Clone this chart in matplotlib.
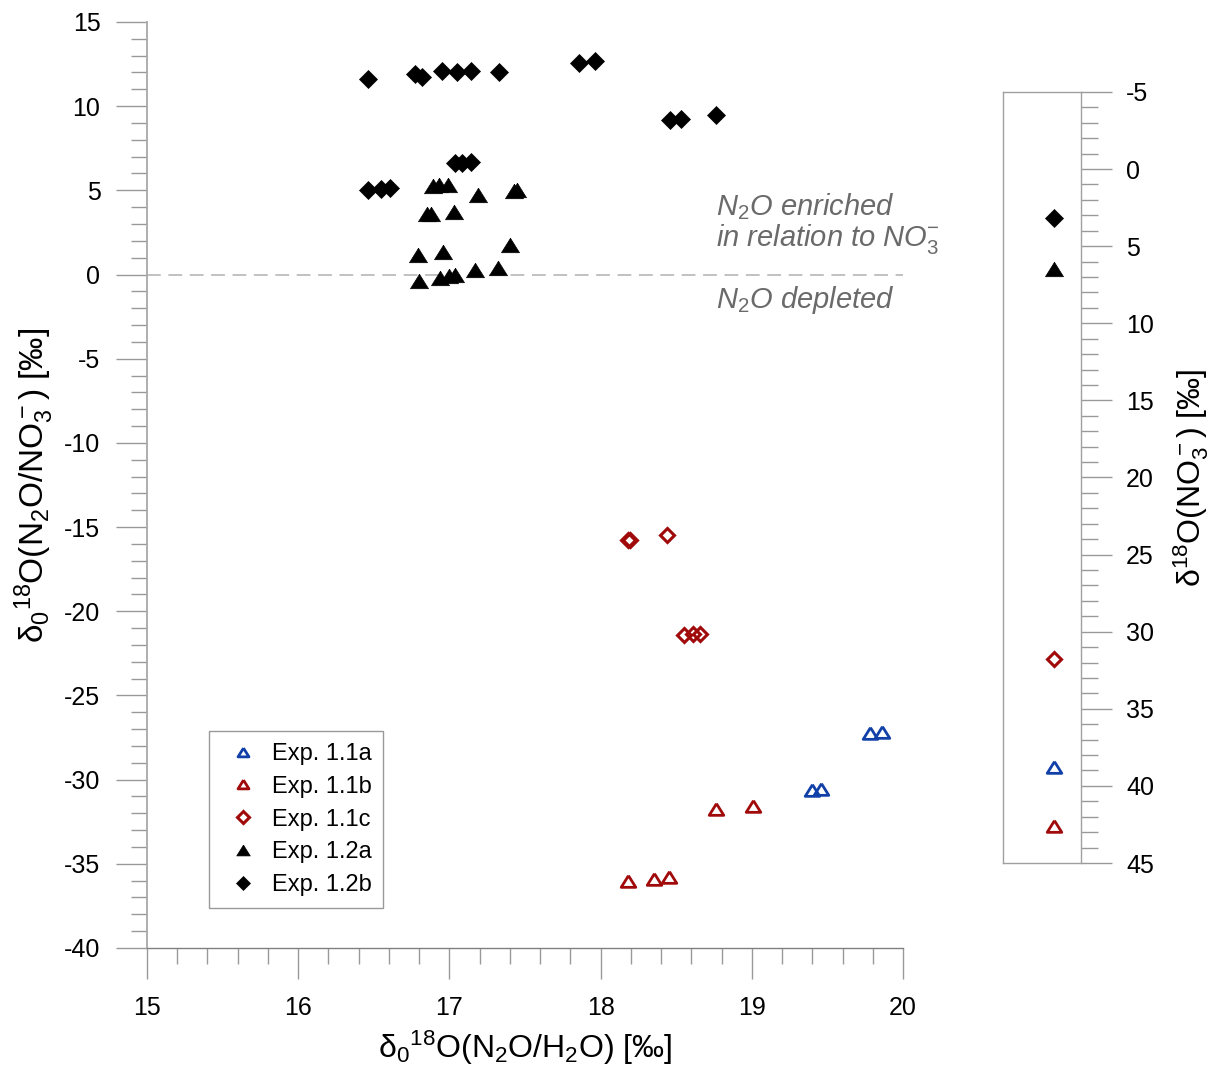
import matplotlib
matplotlib.use("Agg")
import matplotlib.pyplot as plt
from matplotlib.ticker import MultipleLocator

# ---------------- data ----------------
# Exp. 1.1a (blue open triangles)
x_11a = [19.78, 19.86, 19.40, 19.46]
y_11a = [-27.24, -27.18, -30.60, -30.55]
# Exp. 1.1b (red open triangles)
x_11b = [18.76, 19.01, 18.18, 18.35, 18.45]
y_11b = [-31.75, -31.54, -36.05, -35.91, -35.81]
# Exp. 1.1c (red open diamonds)
x_11c = [18.18, 18.195, 18.44, 18.55, 18.61, 18.66]
y_11c = [-15.76, -15.74, -15.50, -21.44, -21.36, -21.34]
# Exp. 1.2a (black filled triangles)
x_12a = [16.89, 16.93, 16.99, 17.19, 17.43, 17.45, 16.85, 16.88, 17.03,
         16.79, 16.96, 17.40, 16.80, 16.94, 17.00, 17.04, 17.17, 17.32]
y_12a = [5.26, 5.30, 5.34, 4.73, 4.96, 5.02, 3.60, 3.60, 3.72,
         1.16, 1.32, 1.76, -0.36, -0.22, -0.08, -0.04, 0.27, 0.41]
# Exp. 1.2b (black filled diamonds)
x_12b = [16.46, 16.77, 16.82, 16.95, 17.05, 17.14, 17.33, 17.86, 17.96,
         18.46, 18.53, 18.76, 16.46, 16.55, 16.61, 17.04, 17.08, 17.14]
y_12b = [11.60, 11.89, 11.72, 12.09, 12.01, 12.09, 12.05, 12.58, 12.67,
         9.18, 9.24, 9.48, 5.02, 5.10, 5.14, 6.61, 6.64, 6.69]

# delta18O(NO3-) of each experiment (right panel)
no3_labels = ["Exp. 1.1a", "Exp. 1.1b", "Exp. 1.1c", "Exp. 1.2a", "Exp. 1.2b"]
no3_values = [38.8, 42.6, 31.8, 6.5, 3.2]

x_ticks = [15, 16, 17, 18, 19, 20]
y_ticks = [15, 10, 5, 0, -5, -10, -15, -20, -25, -30, -35, -40]
r_ticks = [-5, 0, 5, 10, 15, 20, 25, 30, 35, 40, 45]

# ---------------- style ----------------
plt.rcParams['font.family'] = ['Liberation Sans', 'DejaVu Sans']
plt.rcParams['mathtext.fontset'] = 'custom'
plt.rcParams['mathtext.rm'] = 'Liberation Sans'
plt.rcParams['mathtext.it'] = 'Liberation Sans:italic'
plt.rcParams['mathtext.bf'] = 'Liberation Sans:bold'
plt.rcParams['axes.unicode_minus'] = False

BLUE = '#1040a8'
RED = '#a00a0a'
BLACK = 'black'
TICKC = '#999999'
tri = [(0, 0.8), (-1, -0.8), (1, -0.8), (0, 0.8)]

styles = {
    "Exp. 1.1a": dict(marker=tri, ms=10.5, mfc='none', mec=BLUE, mew=2.0),
    "Exp. 1.1b": dict(marker=tri, ms=10.5, mfc='none', mec=RED, mew=2.0),
    "Exp. 1.1c": dict(marker='D', ms=7.5, mfc='none', mec=RED, mew=2.2),
    "Exp. 1.2a": dict(marker=tri, ms=13, mfc=BLACK, mec=BLACK, mew=0.5),
    "Exp. 1.2b": dict(marker='D', ms=9, mfc=BLACK, mec=BLACK, mew=0.5),
}
series = {
    "Exp. 1.1a": (x_11a, y_11a),
    "Exp. 1.1b": (x_11b, y_11b),
    "Exp. 1.1c": (x_11c, y_11c),
    "Exp. 1.2a": (x_12a, y_12a),
    "Exp. 1.2b": (x_12b, y_12b),
}

fig = plt.figure(figsize=(12.21, 10.77), dpi=100)
ax = fig.add_axes([0.1204, 0.1198, 0.6192, 0.8598])

ax.axhline(0, color='#b0b0b0', lw=1.1, ls=(0, (9.0, 5.0)), zorder=1)

for name in ["Exp. 1.1a", "Exp. 1.1b", "Exp. 1.1c", "Exp. 1.2a", "Exp. 1.2b"]:
    xs, ys = series[name]
    ax.plot(xs, ys, ls='none', label=name, zorder=3, **styles[name])

ax.set_xlim(15, 20)
ax.set_ylim(-40, 15)
ax.set_xticks(x_ticks)
ax.set_yticks(y_ticks)
ax.xaxis.set_minor_locator(MultipleLocator(0.2))
ax.yaxis.set_minor_locator(MultipleLocator(1))
for s in ['top', 'right']:
    ax.spines[s].set_visible(False)
ax.spines['left'].set_color('#a8a8a8')
ax.spines['bottom'].set_color('#808080')
ax.spines['left'].set_linewidth(1.3)
ax.spines['bottom'].set_linewidth(1.0)
ax.tick_params(which='major', direction='out', length=22.5, width=1.0,
               color=TICKC, labelsize=18, pad=11)
ax.tick_params(which='minor', direction='out', length=11.5, width=1.0,
               color=TICKC)
ax.tick_params(axis='x', which='major', pad=12)

ax.set_xlabel('δ$_0$$^{18}$O(N$_2$O/H$_2$O) [‰]', fontsize=23, labelpad=6)
ax.set_ylabel('δ$_0$$^{18}$O(N$_2$O/NO$_3^-$) [‰]', fontsize=24, labelpad=6)

GRAYTXT = '#6a6a6a'
ax.text(18.763, 3.54, 'N$_\\mathit{2}$O enriched', fontsize=21,
        style='italic', color=GRAYTXT, ha='left', va='baseline')
ax.text(18.763, 1.70, 'in relation to NO$_\\mathit{3}^\\mathit{-}$', fontsize=21,
        style='italic', color=GRAYTXT, ha='left', va='baseline')
ax.text(18.763, -1.98, 'N$_\\mathit{2}$O depleted', fontsize=21,
        style='italic', color=GRAYTXT, ha='left', va='baseline')

leg = ax.legend(loc='upper left', bbox_to_anchor=(0.082, 0.2343),
                borderaxespad=0, fontsize=17, frameon=True, fancybox=False,
                edgecolor='#999999', framealpha=1, borderpad=0.5,
                labelspacing=0.46, handlelength=1.9, handletextpad=0.25,
                markerscale=0.75, numpoints=1)
leg.get_frame().set_linewidth(1.0)

# ---------------- right panel ----------------
ax2 = fig.add_axes([0.8215, 0.1987, 0.0639, 0.7159])
for name, v in zip(no3_labels, no3_values):
    ax2.plot([0.65], [v], ls='none', zorder=3, **styles[name])
ax2.set_xlim(0, 1)
ax2.set_ylim(45, -5)
ax2.set_xticks([])
ax2.set_yticks(r_ticks)
ax2.yaxis.set_minor_locator(MultipleLocator(1))
ax2.yaxis.tick_right()
ax2.yaxis.set_label_position('right')
for s in ax2.spines.values():
    s.set_color('#a0a0a0')
    s.set_linewidth(1.0)
ax2.tick_params(axis='y', which='major', direction='out', length=22.5,
                width=1.0, color=TICKC, labelsize=18, pad=10)
ax2.tick_params(axis='y', which='minor', direction='out', length=12,
                width=1.0, color=TICKC)
ax2.set_ylabel('δ$^{18}$O(NO$_3^-$) [‰]', fontsize=23, labelpad=12,
               rotation=90)

fig.savefig('out.png', dpi=100)
